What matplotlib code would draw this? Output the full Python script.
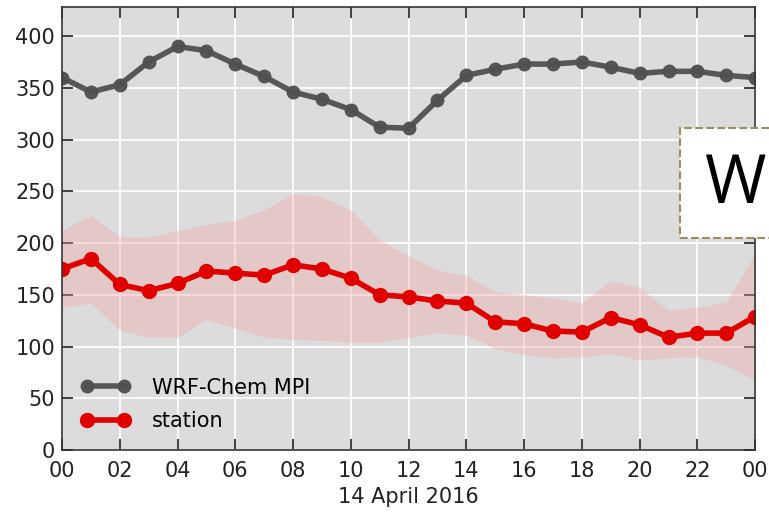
import matplotlib
matplotlib.use("Agg")
import matplotlib.pyplot as plt
from matplotlib.patches import Rectangle
import numpy as np

hours = list(range(25))
wrf = [360, 346, 353, 375, 390, 386, 373, 361, 346, 339, 329, 312, 311,
       338, 362, 368, 373, 373, 375, 370, 364, 366, 366, 362, 360]
station = [175, 185, 160, 154, 161, 173, 171, 169, 179, 175, 166, 150, 148,
           144, 142, 124, 122, 115, 114, 128, 121, 109, 113, 113, 129]
band_hi = [212, 227, 206, 206, 212, 218, 222, 232, 248, 245, 232, 203, 188,
           174, 169, 153, 150, 147, 142, 164, 157, 135, 138, 143, 190]
band_lo = [138, 142, 116, 109, 109, 126, 118, 109, 107, 106, 104, 104, 109,
           113, 111, 98, 92, 89, 90, 93, 87, 89, 90, 82, 68]
xtick_labels = ["00", "02", "04", "06", "08", "10", "12", "14", "16", "18",
                "20", "22", "00"]

fig = plt.figure(figsize=(7.69, 5.12), dpi=100)
ax = fig.add_axes([0.0806, 0.121, 0.9014, 0.865])
ax.set_facecolor("#dcdcdc")
ax.grid(True, color="white", linewidth=1.2)
ax.set_axisbelow(True)

ax.fill_between(hours, band_lo, band_hi, color="#f4a0a0", alpha=0.35, linewidth=0)
ax.plot(hours, wrf, "-o", color="#505050", lw=4, ms=9, alpha=0.95,
        label="WRF-Chem MPI")
ax.plot(hours, station, "-o", color="#e00000", lw=4, ms=10,
        label="station")

ax.set_xlim(0, 24)
ax.set_ylim(0, 428)
ax.set_xticks(range(0, 25, 2))
ax.set_xticklabels(xtick_labels)
ax.set_yticks(range(0, 401, 50))
ax.tick_params(direction="in", length=8, width=1.2, top=True, right=True,
               labelsize=15, colors="#222222")
ax.tick_params(axis="x", pad=8)
ax.tick_params(axis="y", pad=5)
for s in ax.spines.values():
    s.set_color("#333333")
    s.set_linewidth(1.2)
ax.set_xlabel("14 April 2016", fontsize=15, color="#222222", labelpad=4)

ax.legend(loc="lower left", frameon=False, fontsize=15, numpoints=2,
          handlelength=2.4, handletextpad=1.0, bbox_to_anchor=(0.0, 0.0),
          labelspacing=0.65)

# overlay box on the right edge
fig.patches.append(Rectangle((680 / 769, 1 - 238 / 512), 100 / 769, 110 / 512,
                             transform=fig.transFigure, facecolor="white",
                             edgecolor="#9a8f5a", linestyle="--", linewidth=1.5,
                             zorder=10))
fig.text(735 / 769, 1 - 185 / 512, "W", fontsize=48, family="Open Sans",
         ha="center", va="center", zorder=11)

fig.savefig("out.png", dpi=100)
